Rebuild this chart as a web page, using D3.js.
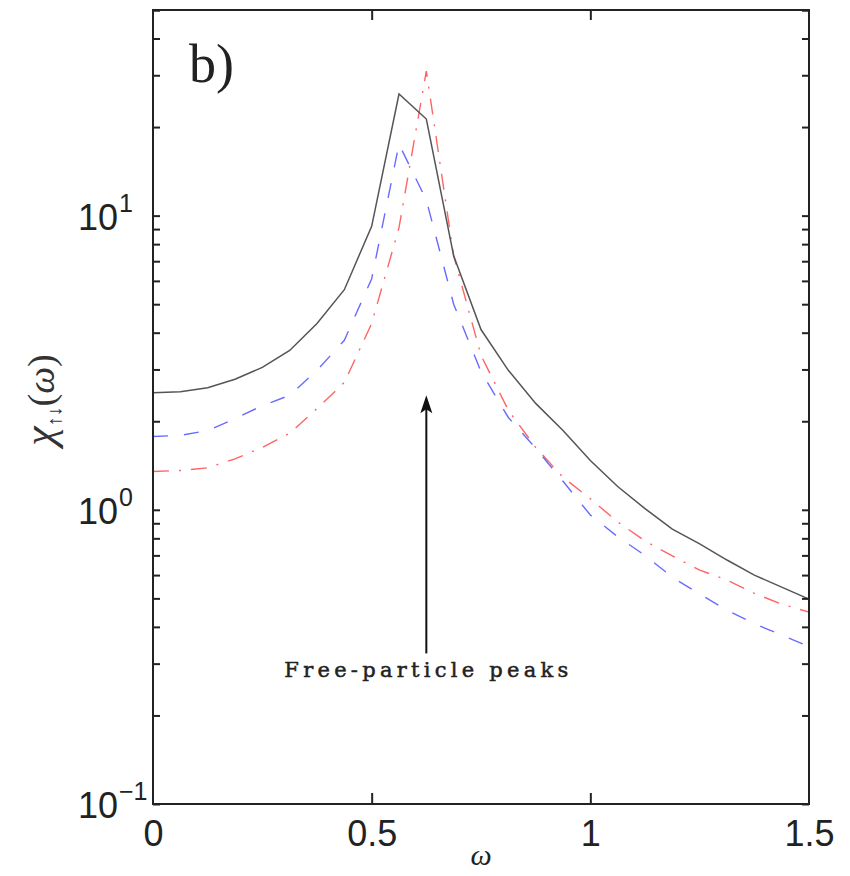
<!DOCTYPE html>
<html>
<head>
<meta charset="utf-8">
<script src="https://cdn.jsdelivr.net/npm/d3@7"></script>
<style>
  html, body { margin: 0; padding: 0; background: #fff; }
  svg { display: block; }
</style>
</head>
<body>
<svg id="chart" width="850" height="876"></svg>
<script>
// Frequency grid (omega) shared by all three response curves
const omega = [0, 0.0625, 0.125, 0.1875, 0.25, 0.3125, 0.375, 0.4375, 0.5, 0.5625, 0.625, 0.6875,
               0.75, 0.8125, 0.875, 0.9375, 1.0, 1.0625, 1.125, 1.1875, 1.25, 1.3125, 1.375, 1.4375, 1.5];

// chi_{up,down}(omega) for the three cases
const chiSolid = [2.50, 2.52, 2.60, 2.78, 3.05, 3.48, 4.30, 5.6, 9.2, 25.9, 21.3, 7.3,
                  4.1, 2.98, 2.30, 1.86, 1.47, 1.20, 1.01, 0.86, 0.766, 0.675, 0.60, 0.546, 0.497];
const chiDashed = [1.775, 1.79, 1.86, 2.04, 2.26, 2.45, 2.98, 3.77, 6.1, 17.5, 11.3, 5.0,
                   2.95, 2.06, 1.62, 1.25, 0.96, 0.81, 0.70, 0.59, 0.517, 0.456, 0.41, 0.375, 0.343];
const chiDashDot = [1.35, 1.36, 1.39, 1.49, 1.63, 1.82, 2.21, 2.71, 4.3, 9.1, 31, 7.3,
                    3.35, 2.18, 1.63, 1.29, 1.09, 0.91, 0.784, 0.697, 0.624, 0.577, 0.52, 0.478, 0.449];

// Axis ticks
const xTicks = [0, 0.5, 1, 1.5];
const xTickLabels = ["0", "0.5", "1", "1.5"];
const yDecades = [0.1, 1, 10];
const yDecadeExponents = ["\u22121", "0", "1"];

// Annotation: arrow marking the free-particle peaks
const arrowOmega = 0.625;
const arrowFrom = 0.325;
const arrowTo = 2.45;
const arrowLabel = "Free-particle peaks";
const arrowLabelLevel = 0.27;

const svg = d3.select("#chart");
const frame = { left: 153, right: 809, top: 10, bottom: 804 };

const x = d3.scaleLinear().domain([0, 1.5]).range([frame.left, frame.right]);
const y = d3.scaleLog().domain([0.1, 50]).range([frame.bottom, frame.top]);

// all log ticks (minor + major) inside the domain
const yAllTicks = [];
[0.1, 1, 10].forEach(d => { for (let k = 1; k <= 9; k++) { const v = d * k; if (v <= 50) yAllTicks.push(v); } });
yAllTicks.push(50);

const axisColor = "#222";
const tickFont = "'Liberation Sans', Arial, Helvetica, sans-serif";

// Curves
const line = (vals) => d3.line().x((d, i) => x(omega[i])).y(d => y(d))(vals);

const plot = svg.append("g");
plot.append("path").attr("d", line(chiDashDot))
  .attr("fill", "none").attr("stroke", "#ff6464").attr("stroke-width", 1.4)
  .attr("stroke-dasharray", "16,10,2,10");
plot.append("path").attr("d", line(chiDashed))
  .attr("fill", "none").attr("stroke", "#6a6aff").attr("stroke-width", 1.4)
  .attr("stroke-dasharray", "15,16");
plot.append("path").attr("d", line(chiSolid))
  .attr("fill", "none").attr("stroke", "#555").attr("stroke-width", 1.5);

// Ticks (inward, on all four sides)
function styleAxis(g) {
  g.select(".domain").remove();
  g.selectAll(".tick line").attr("stroke", axisColor).attr("stroke-width", 2);
}
svg.append("g").attr("transform", `translate(${frame.left},0)`)
  .call(d3.axisLeft(y).tickValues(yAllTicks).tickSize(-7).tickFormat(""))
  .call(styleAxis);
svg.append("g").attr("transform", `translate(${frame.right},0)`)
  .call(d3.axisRight(y).tickValues(yAllTicks).tickSize(-7).tickFormat(""))
  .call(styleAxis);

const xAxis = svg.append("g").attr("transform", `translate(0,${frame.bottom})`)
  .call(d3.axisBottom(x).tickValues(xTicks).tickSize(-11).tickPadding(16)
        .tickFormat((d, i) => xTickLabels[i]))
  .call(styleAxis);
xAxis.selectAll(".tick text").attr("font-family", tickFont).attr("font-size", 36).attr("fill", axisColor);
xAxis.selectAll(".tick").filter(d => d === 0 || d === 1.5).select("line").remove();

svg.append("g").attr("transform", `translate(0,${frame.top})`)
  .call(d3.axisTop(x).tickValues(xTicks.filter(d => d > 0 && d < 1.5)).tickSize(-10).tickFormat(""))
  .call(styleAxis);

// Frame
svg.append("rect").attr("x", frame.left).attr("y", frame.top)
  .attr("width", frame.right - frame.left).attr("height", frame.bottom - frame.top)
  .attr("fill", "none").attr("stroke", axisColor).attr("stroke-width", 2);

// Decade labels 10^n
yDecades.forEach((v, i) => {
  svg.append("text").attr("font-family", tickFont).attr("fill", axisColor)
    .attr("x", 118).attr("y", y(v) + 14).attr("text-anchor", "end").attr("font-size", 36)
    .text("10");
  svg.append("text").attr("font-family", tickFont).attr("fill", axisColor)
    .attr("x", 119).attr("y", y(v) - 4).attr("font-size", 25)
    .text(yDecadeExponents[i]);
});

// Panel tag
svg.append("text").attr("x", 189).attr("y", 82)
  .attr("font-family", "'Liberation Serif', 'Times New Roman', serif")
  .attr("font-size", 54).attr("fill", "#222").text("b)");

// Axis titles
svg.append("text").attr("x", x(0.75)).attr("y", 865)
  .attr("text-anchor", "middle")
  .attr("font-family", "'Liberation Serif', 'Times New Roman', serif")
  .attr("font-style", "italic").attr("font-size", 30).attr("fill", "#222").text("ω");

const yl = svg.append("text")
  .attr("transform", "translate(54,400) rotate(-90)")
  .attr("text-anchor", "middle")
  .attr("font-family", "'Liberation Serif', 'Times New Roman', serif")
  .attr("font-size", 38).attr("fill", "#333");
yl.append("tspan").attr("font-style", "italic").attr("font-size", 44).text("χ");
yl.append("tspan").attr("font-size", 20).attr("dy", 7).text("↑↓");
yl.append("tspan").attr("dy", -7).text("(");
yl.append("tspan").attr("font-style", "italic").text("ω");
yl.append("tspan").text(")");

// Arrow annotation
const ax = x(arrowOmega);
const tipY = y(arrowTo);
svg.append("line").attr("x1", ax).attr("x2", ax)
  .attr("y1", y(arrowFrom)).attr("y2", tipY + 10)
  .attr("stroke", "#111").attr("stroke-width", 2);
svg.append("path")
  .attr("d", `M${ax},${tipY} L${ax - 6},${tipY + 18} L${ax},${tipY + 14} L${ax + 6},${tipY + 18} Z`)
  .attr("fill", "#111");

svg.append("text").attr("x", ax).attr("y", y(arrowLabelLevel))
  .attr("text-anchor", "middle")
  .attr("font-family", "'DejaVu Serif', 'Liberation Serif', serif")
  .attr("font-size", 21).attr("fill", "#222")
  .attr("stroke", "#222").attr("stroke-width", 0.5)
  .attr("textLength", 284).attr("lengthAdjust", "spacing")
  .text(arrowLabel);
</script>
</body>
</html>
